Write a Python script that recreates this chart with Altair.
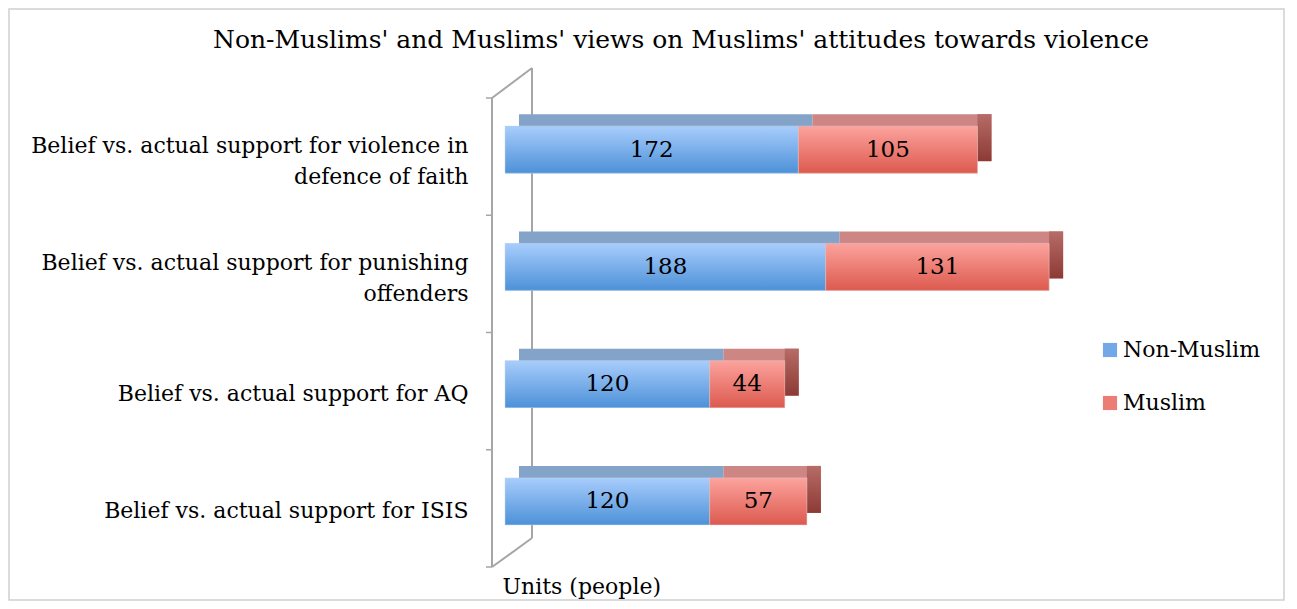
import altair as alt
import pandas as pd

categories = [
    "Belief vs. actual support for violence in|defence of faith",
    "Belief vs. actual support for punishing|offenders",
    "Belief vs. actual support for AQ",
    "Belief vs. actual support for ISIS",
]
series = ["Non-Muslim", "Muslim"]
non_muslim = [172, 188, 120, 120]
muslim = [105, 131, 44, 57]

rows = []
for c, a, b in zip(categories, non_muslim, muslim):
    rows.append(dict(cat=c, series="Non-Muslim", value=a, start=0, end=a, mid=a / 2))
    rows.append(dict(cat=c, series="Muslim", value=b, start=a, end=a + b, mid=a + b / 2))
df = pd.DataFrame(rows)

FONT = "DejaVu Serif"
W, H = 597, 469
BAR_H = 47
FOFF = -7
DX, DY = 14, -12
WALL = "#a6a6a6"

def grad(c1, c2):
    return {"gradient": "linear", "x1": 0, "y1": 0, "x2": 0, "y2": 1,
            "stops": [{"offset": 0, "color": c1}, {"offset": 1, "color": c2}]}

yenc = alt.Y("cat:N", sort=categories, title=None,
             scale=alt.Scale(paddingInner=0, paddingOuter=0),
             axis=alt.Axis(domain=False, ticks=False, labelExpr="split(datum.label, '|')",
                           labelFont=FONT, labelFontSize=22, labelColor="black",
                           labelPadding=37, labelLimit=600, labelLineHeight=31,
                           labelOffset={"condition": {"test": "indexof(datum.label, '|') >= 0", "value": -11},
                                        "value": 3}))
xenc = alt.X("start:Q", scale=alt.Scale(domain=[0, 330]),
             axis=alt.Axis(labels=False, ticks=False, domain=False, grid=False,
                           title="Units (people)", titleFont=FONT, titleFontSize=22,
                           titleFontWeight="normal", titleColor="black",
                           titleAnchor="start", titleAlign="left", titleX=-3, titleY=9,
                           titleBaseline="top"))

base = alt.Chart(df)
nm = base.transform_filter(alt.datum.series == "Non-Muslim")
mu = base.transform_filter(alt.datum.series == "Muslim")

legend_layer = base.mark_bar(height=BAR_H, yOffset=FOFF).encode(
    x=xenc, x2="end:Q", y=yenc,
    color=alt.Color("series:N", scale=alt.Scale(domain=series, range=["#72a8e8", "#ec7d74"]),
                    legend=alt.Legend(title=None, orient="none", legendX=594, legendY=241,
                                      symbolType="square", symbolSize=200, symbolStrokeWidth=0,
                                      labelFont=FONT, labelFontSize=22, labelColor="black",
                                      rowPadding=31, labelOffset=2)))

top_blue = nm.mark_bar(height=BAR_H, yOffset=FOFF + DY, xOffset=DX, x2Offset=DX, fill="#84a3c9").encode(
    x="start:Q", x2="end:Q", y=alt.Y("cat:N", sort=categories))
top_red = mu.mark_bar(height=BAR_H, yOffset=FOFF + DY, xOffset=DX, x2Offset=DX, fill="#cd8684").encode(
    x="start:Q", x2="end:Q", y=alt.Y("cat:N", sort=categories))
side_red = mu.mark_bar(height=BAR_H, yOffset=FOFF + DY, x2Offset=DX,
                       fill=grad("#b76c67", "#8d3a35")).encode(
    x="end:Q", x2="end:Q", y=alt.Y("cat:N", sort=categories))
front_blue = nm.mark_bar(height=BAR_H, yOffset=FOFF, fill=grad("#a8cdfc", "#4d91d8"),
                         stroke="#c9d8ea", strokeWidth=0.5).encode(
    x="start:Q", x2="end:Q", y=alt.Y("cat:N", sort=categories))
front_red = mu.mark_bar(height=BAR_H, yOffset=FOFF, fill=grad("#fca39d", "#dc5a4f"),
                        stroke="#eac9c6", strokeWidth=0.5).encode(
    x="start:Q", x2="end:Q", y=alt.Y("cat:N", sort=categories))
labels = base.mark_text(font=FONT, fontSize=23, color="black", yOffset=FOFF).encode(
    x="mid:Q", y=alt.Y("cat:N", sort=categories), text="value:Q")

one = alt.Chart(pd.DataFrame({"k": [0]}))
wall = alt.layer(
    one.mark_rule(color=WALL, strokeWidth=2).encode(x=alt.value(-13), y=alt.value(0), y2=alt.value(H)),
    one.mark_rule(color=WALL, strokeWidth=2).encode(x=alt.value(27), y=alt.value(-30), y2=alt.value(H - 29)),
    one.mark_rule(color=WALL, strokeWidth=2).encode(x=alt.value(-13), x2=alt.value(27), y=alt.value(0), y2=alt.value(-30)),
    one.mark_rule(color=WALL, strokeWidth=2).encode(x=alt.value(-13), x2=alt.value(27), y=alt.value(H), y2=alt.value(H - 29)),
    one.mark_rule(color=WALL, strokeWidth=1.5).encode(x=alt.value(-19), x2=alt.value(-13), y=alt.value(H)),
)
ticks = alt.Chart(pd.DataFrame({"cat": categories})).mark_rule(color=WALL, strokeWidth=1.5).encode(
    y=alt.Y("cat:N", sort=categories, bandPosition=0), x=alt.value(-19), x2=alt.value(-13))
frame = one.mark_rect(fill="transparent", stroke="#d0d0d0", strokeWidth=1.5).encode(
    x=alt.value(-496), x2=alt.value(W + 182), y=alt.value(-89), y2=alt.value(H + 33))

chart = alt.layer(frame, wall, ticks, legend_layer, top_blue, top_red, side_red,
                  front_blue, front_red, labels).properties(
    width=W, height=H,
    autosize=alt.AutoSizeParams(type="none"),
    padding={"left": 497, "top": 90, "right": 183, "bottom": 34},
    title=alt.TitleParams("Non-Muslims' and Muslims' views on Muslims' attitudes towards violence",
                          anchor="start", frame="group", dx=-292, font=FONT, fontSize=25,
                          fontWeight="normal", color="black", offset=-45),
).configure(background="white").configure_view(strokeWidth=0, stroke="transparent")

chart.save("out.html", embed_options={"renderer": "svg", "actions": False})
